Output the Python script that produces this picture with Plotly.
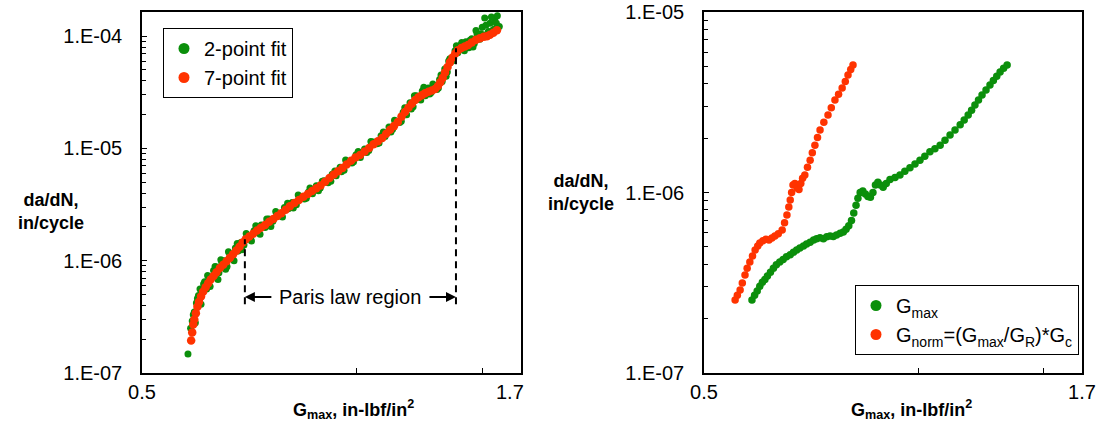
import numpy as np
import plotly.graph_objects as go

# ---------------- data (left panel) ----------------
fit2_G = [0.580, 0.585, 0.588, 0.592, 0.596, 0.600, 0.603, 0.607, 0.612, 0.616, 0.620, 0.626,
          0.630, 0.636, 0.641, 0.647, 0.652, 0.658, 0.664, 0.670, 0.676, 0.682, 0.688, 0.695,
          0.702, 0.710, 0.718, 0.726, 0.735, 0.744, 0.753, 0.763, 0.773, 0.782, 0.792, 0.802,
          0.812, 0.823, 0.834, 0.845, 0.856, 0.867, 0.878, 0.889, 0.900, 0.912, 0.924, 0.936,
          0.948, 0.960, 0.972, 0.985, 0.998, 1.012, 1.026, 1.040, 1.054, 1.068, 1.082, 1.096,
          1.110, 1.123, 1.136, 1.149, 1.162, 1.175, 1.188, 1.200, 1.212, 1.224, 1.236, 1.248,
          1.260, 1.272, 1.284, 1.296, 1.307, 1.318, 1.329, 1.340, 1.351, 1.362, 1.374, 1.386,
          1.398, 1.410, 1.423, 1.436, 1.450, 1.462, 1.475, 1.488, 1.500, 1.512, 1.525, 1.538,
          1.550, 1.562, 1.575, 1.585,
          0.590, 0.594, 0.598, 0.605, 0.610, 0.618, 0.623, 0.633, 0.639, 0.645, 0.655, 0.661,
          0.673, 0.680, 0.690, 0.700, 0.712, 0.722, 0.732, 0.748, 0.758, 0.770, 0.787, 0.800,
          0.815, 0.828, 0.850, 0.860, 0.884, 0.895, 0.920, 0.932, 0.952, 0.965, 0.990, 1.005,
          1.033, 1.047, 1.075, 1.090, 1.117, 1.130, 1.155, 1.168, 1.193, 1.205, 1.230, 1.242,
          1.266, 1.279, 1.302, 1.313, 1.335, 1.346, 1.368, 1.380, 1.404, 1.416, 1.442, 1.456,
          1.470, 1.494, 1.518, 1.530, 1.545, 1.558, 1.570]
fit2_rate = [1.48e-7, 2.5e-7, 2.9e-7, 3.5e-7, 4.2e-7, 4.9e-7, 5.6e-7, 5.2e-7, 6.5e-7, 5.6e-7, 7.2e-7, 7.0e-7,
             8.2e-7, 8.8e-7, 7.8e-7, 9.6e-7, 1.0e-6, 8.9e-7, 1.15e-6, 1.05e-6, 1.30e-6, 1.22e-6, 1.45e-6, 1.38e-6,
             1.66e-6, 1.58e-6, 1.85e-6, 1.78e-6, 2.08e-6, 1.98e-6, 2.35e-6, 2.25e-6, 2.62e-6, 2.50e-6, 2.98e-6, 2.90e-6,
             3.30e-6, 3.15e-6, 3.65e-6, 3.55e-6, 4.10e-6, 3.95e-6, 4.65e-6, 4.45e-6, 5.15e-6, 4.95e-6, 5.90e-6, 5.70e-6,
             6.80e-6, 6.40e-6, 7.60e-6, 7.40e-6, 8.80e-6, 8.30e-6, 9.90e-6, 9.60e-6, 1.14e-5, 1.10e-5, 1.30e-5, 1.28e-5,
             1.55e-5, 1.48e-5, 1.75e-5, 1.70e-5, 2.10e-5, 2.00e-5, 2.55e-5, 2.35e-5, 2.95e-5, 2.75e-5, 3.25e-5, 2.95e-5,
             3.45e-5, 3.15e-5, 3.55e-5, 3.35e-5, 4.10e-5, 3.95e-5, 5.10e-5, 4.80e-5, 6.30e-5, 6.00e-5, 7.40e-5, 7.10e-5,
             8.30e-5, 7.60e-5, 8.90e-5, 7.90e-5, 9.50e-5, 8.60e-5, 1.05e-4, 9.40e-5, 1.20e-4, 1.45e-4, 1.05e-4, 1.30e-4,
             1.12e-4, 1.40e-4, 1.52e-4, 1.22e-4,
             3.3e-7, 2.8e-7, 4.6e-7, 4.1e-7, 6.2e-7, 7.4e-7, 5.9e-7, 8.9e-7, 6.8e-7, 1.02e-6, 8.4e-7, 1.20e-6,
             1.00e-6, 1.42e-6, 1.25e-6, 1.75e-6, 1.50e-6, 2.05e-6, 1.72e-6, 2.35e-6, 2.02e-6, 2.75e-6, 2.45e-6, 3.25e-6,
             2.95e-6, 3.85e-6, 3.60e-6, 4.45e-6, 4.20e-6, 5.10e-6, 5.10e-6, 6.30e-6, 6.20e-6, 7.90e-6, 7.60e-6, 9.40e-6,
             9.20e-6, 1.15e-5, 1.12e-5, 1.40e-5, 1.40e-5, 1.78e-5, 1.75e-5, 2.30e-5, 2.25e-5, 2.95e-5, 2.70e-5, 3.50e-5,
             3.05e-5, 3.75e-5, 3.45e-5, 4.50e-5, 4.40e-5, 6.00e-5, 6.40e-5, 8.20e-5, 8.80e-5, 7.40e-5, 9.20e-5, 8.00e-5,
             1.12e-4, 1.05e-4, 1.25e-4, 1.10e-4, 1.48e-4, 1.15e-4, 1.30e-4]

fit7_G = [0.586, 0.588, 0.590, 0.592, 0.595, 0.598, 0.601, 0.605, 0.609, 0.614, 0.619, 0.624,
          0.630, 0.636, 0.643, 0.650, 0.657, 0.664, 0.671, 0.678, 0.685, 0.692, 0.699, 0.707,
          0.716, 0.725, 0.734, 0.744, 0.754, 0.764, 0.774, 0.784, 0.795, 0.806, 0.818, 0.830,
          0.842, 0.854, 0.866, 0.878, 0.890, 0.903, 0.916, 0.929, 0.942, 0.955, 0.968, 0.982,
          0.996, 1.011, 1.026, 1.041, 1.056, 1.071, 1.086, 1.100, 1.114, 1.128, 1.142, 1.156,
          1.169, 1.182, 1.195, 1.208, 1.221, 1.234, 1.247, 1.261, 1.275, 1.288, 1.300, 1.310,
          1.320, 1.330, 1.341, 1.352, 1.363, 1.375, 1.387, 1.402, 1.418, 1.433, 1.450, 1.470,
          1.489, 1.508, 1.523, 1.538, 1.555, 1.573]
fit7_rate = [1.95e-7, 2.3e-7, 2.7e-7, 3.0e-7, 3.4e-7, 3.9e-7, 4.3e-7, 4.8e-7, 5.3e-7, 5.8e-7, 6.3e-7, 6.8e-7,
             7.3e-7, 7.9e-7, 8.6e-7, 9.2e-7, 9.9e-7, 1.06e-6, 1.14e-6, 1.23e-6, 1.33e-6, 1.45e-6, 1.55e-6, 1.64e-6,
             1.74e-6, 1.86e-6, 1.97e-6, 2.08e-6, 2.22e-6, 2.35e-6, 2.50e-6, 2.65e-6, 2.84e-6, 3.05e-6, 3.26e-6, 3.48e-6,
             3.72e-6, 3.93e-6, 4.17e-6, 4.42e-6, 4.67e-6, 5.05e-6, 5.45e-6, 5.85e-6, 6.25e-6, 6.70e-6, 7.20e-6, 7.75e-6,
             8.30e-6, 8.75e-6, 9.40e-6, 1.01e-5, 1.09e-5, 1.16e-5, 1.24e-5, 1.35e-5, 1.47e-5, 1.58e-5, 1.72e-5, 1.92e-5,
             2.11e-5, 2.30e-5, 2.50e-5, 2.70e-5, 2.85e-5, 2.98e-5, 3.10e-5, 3.20e-5, 3.28e-5, 3.38e-5, 3.60e-5, 3.88e-5,
             4.25e-5, 4.75e-5, 5.30e-5, 5.87e-5, 6.45e-5, 7.00e-5, 7.50e-5, 7.85e-5, 8.10e-5, 8.35e-5, 8.80e-5, 9.30e-5,
             9.60e-5, 9.90e-5, 1.00e-4, 1.03e-4, 1.07e-4, 1.13e-4]

# ---------------- data (right panel) ----------------
gmax_G = [0.584, 0.589, 0.594, 0.599, 0.604, 0.609, 0.614, 0.620, 0.626, 0.632, 0.639, 0.646,
          0.653, 0.661, 0.668, 0.675, 0.682, 0.690, 0.697, 0.705, 0.713, 0.720, 0.728, 0.736,
          0.744, 0.752, 0.760, 0.768, 0.777, 0.785, 0.792, 0.799, 0.806, 0.812, 0.818, 0.823,
          0.829, 0.836, 0.843, 0.850, 0.857, 0.864, 0.871, 0.878, 0.885, 0.893, 0.902, 0.913,
          0.928, 0.943, 0.958, 0.974, 0.990, 1.006, 1.022, 1.039, 1.056, 1.074, 1.091, 1.109,
          1.127, 1.146, 1.161, 1.176, 1.189, 1.202, 1.216, 1.230, 1.246, 1.262, 1.276, 1.290,
          1.304, 1.319, 1.334]
gmax_rate = [2.54e-7, 2.70e-7, 2.85e-7, 3.02e-7, 3.18e-7, 3.30e-7, 3.45e-7, 3.62e-7, 3.80e-7, 3.98e-7, 4.12e-7, 4.25e-7,
             4.40e-7, 4.52e-7, 4.66e-7, 4.80e-7, 4.93e-7, 5.05e-7, 5.18e-7, 5.30e-7, 5.45e-7, 5.55e-7, 5.62e-7, 5.55e-7,
             5.68e-7, 5.75e-7, 5.70e-7, 5.82e-7, 5.95e-7, 6.05e-7, 6.25e-7, 6.55e-7, 7.00e-7, 7.70e-7, 8.50e-7, 9.30e-7,
             1.00e-6, 1.02e-6, 9.80e-7, 9.50e-7, 9.40e-7, 1.00e-6, 1.10e-6, 1.14e-6, 1.10e-6, 1.07e-6, 1.12e-6, 1.18e-6,
             1.21e-6, 1.25e-6, 1.31e-6, 1.37e-6, 1.44e-6, 1.51e-6, 1.59e-6, 1.68e-6, 1.75e-6, 1.83e-6, 1.95e-6, 2.08e-6,
             2.22e-6, 2.37e-6, 2.52e-6, 2.69e-6, 2.86e-6, 3.05e-6, 3.25e-6, 3.47e-6, 3.70e-6, 3.94e-6, 4.18e-6, 4.40e-6,
             4.65e-6, 4.88e-6, 5.09e-6]

gnorm_G = [0.553, 0.557, 0.562, 0.566, 0.571, 0.575, 0.580, 0.585, 0.590, 0.595, 0.599, 0.605,
           0.611, 0.617, 0.623, 0.629, 0.636, 0.644, 0.649, 0.654, 0.658, 0.661, 0.664, 0.667,
           0.671, 0.676, 0.680, 0.684, 0.688, 0.693, 0.699, 0.705, 0.710, 0.716, 0.722, 0.728,
           0.737, 0.747, 0.755, 0.764, 0.773, 0.782, 0.790, 0.797, 0.804, 0.810]
gnorm_rate = [2.54e-7, 2.70e-7, 2.88e-7, 3.15e-7, 3.49e-7, 3.80e-7, 4.12e-7, 4.45e-7, 4.80e-7, 5.05e-7, 5.25e-7, 5.40e-7,
              5.50e-7, 5.45e-7, 5.60e-7, 5.74e-7, 5.90e-7, 6.20e-7, 6.80e-7, 7.50e-7, 8.30e-7, 9.09e-7, 1.00e-6, 1.10e-6,
              1.12e-6, 1.06e-6, 1.04e-6, 1.12e-6, 1.20e-6, 1.25e-6, 1.38e-6, 1.51e-6, 1.66e-6, 1.83e-6, 2.02e-6, 2.22e-6,
              2.45e-6, 2.69e-6, 2.95e-6, 3.25e-6, 3.50e-6, 3.79e-6, 4.12e-6, 4.48e-6, 4.80e-6, 5.09e-6]

# ---------------- annotation values ----------------
paris_G = [0.697, 1.378]
paris_top_rate = [1.55e-6, 7.8e-5]
paris_bottom_rate = 4.1e-7
paris_arrow_rate = 4.75e-7
paris_text_G = 0.979

x_ticks = [0.5, 1.0, 1.5, 1.7]
x_ticktext_left = ["0.5", "", "", "1.7\u00a0\u00a0\u00a0\u00a0"]
x_ticktext_right = ["0.5", "", "", "1.7"]
y_ticks_left = [1e-7, 1e-6, 1e-5, 1e-4]
y_ticktext_left = ["1.E-07", "1.E-06", "1.E-05", "1.E-04"]
y_ticks_right = [1e-7, 1e-6, 1e-5]
y_ticktext_right = ["1.E-07", "1.E-06", "1.E-05"]

GREEN = "#0b8f0b"
RED = "#ff3300"
FONT = "Liberation Sans, Arial, sans-serif"
W, H = 1103, 427


def minor_vals(lo_exp, hi_exp):
    out = []
    for e in range(lo_exp, hi_exp):
        for m in range(2, 10):
            out.append(m * 10.0 ** e)
    return out


fig = go.Figure()

# left data
fig.add_trace(go.Scatter(x=fit2_G, y=fit2_rate, mode="markers", xaxis="x", yaxis="y",
                         marker=dict(color=GREEN, size=7), showlegend=False, hoverinfo="skip"))
fig.add_trace(go.Scatter(x=fit7_G, y=fit7_rate, mode="markers", xaxis="x", yaxis="y",
                         marker=dict(color=RED, size=8.5), showlegend=False, hoverinfo="skip"))
# legend entries (left)
fig.add_trace(go.Scatter(x=[None], y=[None], mode="markers", xaxis="x", yaxis="y",
                         marker=dict(color=GREEN, size=11), name="2-point fit",
                         legend="legend", legendgroup="a"))
fig.add_trace(go.Scatter(x=[None], y=[None], mode="markers", xaxis="x", yaxis="y",
                         marker=dict(color=RED, size=11), name="7-point fit",
                         legend="legend", legendgroup="b"))

# Paris region dashed lines
for g, top in zip(paris_G, paris_top_rate):
    fig.add_trace(go.Scatter(x=[g, g], y=[paris_bottom_rate, top], mode="lines", xaxis="x", yaxis="y",
                             line=dict(color="black", width=2, dash="7px,5px"),
                             showlegend=False, hoverinfo="skip"))

# right data
fig.add_trace(go.Scatter(x=gmax_G, y=gmax_rate, mode="markers", xaxis="x2", yaxis="y2",
                         marker=dict(color=GREEN, size=7.5), showlegend=False, hoverinfo="skip"))
fig.add_trace(go.Scatter(x=gnorm_G, y=gnorm_rate, mode="markers", xaxis="x2", yaxis="y2",
                         marker=dict(color=RED, size=7.5), showlegend=False, hoverinfo="skip"))
fig.add_trace(go.Scatter(x=[None], y=[None], mode="markers", xaxis="x2", yaxis="y2",
                         marker=dict(color=GREEN, size=11), name="G<sub>max</sub>",
                         legend="legend2", legendgroup="c"))
fig.add_trace(go.Scatter(x=[None], y=[None], mode="markers", xaxis="x2", yaxis="y2",
                         marker=dict(color=RED, size=11),
                         name="G<sub>norm</sub>=(G<sub>max</sub>/G<sub>R</sub>)*G<sub>c</sub>",
                         legend="legend2", legendgroup="d"))

axis_common = dict(showline=True, linecolor="black", linewidth=1.5, mirror=True,
                   showgrid=False, zeroline=False, ticks="inside", tickcolor="black",
                   tickwidth=1, ticklen=5, automargin=False)

TICKFONT = dict(family=FONT, size=20, color="black")

xaxis_common = dict(axis_common, type="log", range=[np.log10(0.5), np.log10(1.7)],
                    tickvals=x_ticks, ticklabelstandoff=0, tickfont=TICKFONT)

fig.update_layout(
    width=W, height=H,
    margin=dict(l=0, r=0, t=0, b=0, autoexpand=False),
    paper_bgcolor="white", plot_bgcolor="white",
    font=dict(family=FONT, size=20, color="black"),
    xaxis=dict(xaxis_common, domain=[142 / W, 521 / W], anchor="y", ticktext=x_ticktext_left),
    xaxis2=dict(xaxis_common, domain=[704 / W, 1082 / W], anchor="y2", ticktext=x_ticktext_right),
    yaxis=dict(axis_common, type="log", range=[-7, -3.785], domain=[54 / H, 415 / H], anchor="x",
               tickvals=y_ticks_left, ticktext=y_ticktext_left, ticklabelstandoff=14,
               tickfont=TICKFONT,
               minor=dict(tickvals=minor_vals(-7, -3), ticks="inside", ticklen=4,
                          tickcolor="black", showgrid=False)),
    yaxis2=dict(axis_common, type="log", range=[-7, -5], domain=[54 / H, 415 / H], anchor="x2",
                tickvals=y_ticks_right, ticktext=y_ticktext_right, ticklabelstandoff=14,
                tickfont=TICKFONT,
                minor=dict(tickvals=minor_vals(-7, -5), ticks="inside", ticklen=4,
                           tickcolor="black", showgrid=False)),
    legend=dict(x=163 / W, y=1 - 28 / H, xanchor="left", yanchor="top",
                bordercolor="black", borderwidth=1, bgcolor="white",
                font=dict(family=FONT, size=20, color="black"),
                traceorder="grouped", tracegroupgap=0, itemwidth=30),
    legend2=dict(x=855 / W, y=1 - 285 / H, xanchor="left", yanchor="top",
                 bordercolor="black", borderwidth=1, bgcolor="white",
                 font=dict(family=FONT, size=20, color="black"),
                 traceorder="grouped", tracegroupgap=0, itemwidth=30),
)

# axis titles
ytitle = "<b>da/dN,<br>in/cycle</b>"
xtitle = "<b>G<sub>max</sub>, in-lbf/in<sup>2</sup></b>"
for xc, yc in [(51, 211), (581, 192)]:
    fig.add_annotation(x=xc / W, y=1 - yc / H, xref="paper", yref="paper", text=ytitle,
                       xanchor="center", yanchor="middle",
                       showarrow=False, align="center", font=dict(size=18))
for xc in [353, 911]:
    fig.add_annotation(x=xc / W, y=1 - 409 / H, xref="paper", yref="paper", text=xtitle,
                       xanchor="center", yanchor="middle",
                       showarrow=False, font=dict(size=18))

# Paris law region label and arrows
fig.add_annotation(x=np.log10(paris_text_G), y=np.log10(paris_arrow_rate), xref="x", yref="y",
                   text="Paris law region", showarrow=False, font=dict(size=20),
                   xanchor="center", yanchor="middle")
fig.add_annotation(x=np.log10(paris_G[0]), y=np.log10(paris_arrow_rate), xref="x", yref="y",
                   text="", showarrow=True, ax=28, ay=0, arrowhead=2, arrowsize=1,
                   arrowwidth=2, arrowcolor="black", standoff=0)
fig.add_annotation(x=np.log10(paris_G[1]), y=np.log10(paris_arrow_rate), xref="x", yref="y",
                   text="", showarrow=True, ax=-28, ay=0, arrowhead=2, arrowsize=1,
                   arrowwidth=2, arrowcolor="black", standoff=0)

fig.write_html("out.html")
